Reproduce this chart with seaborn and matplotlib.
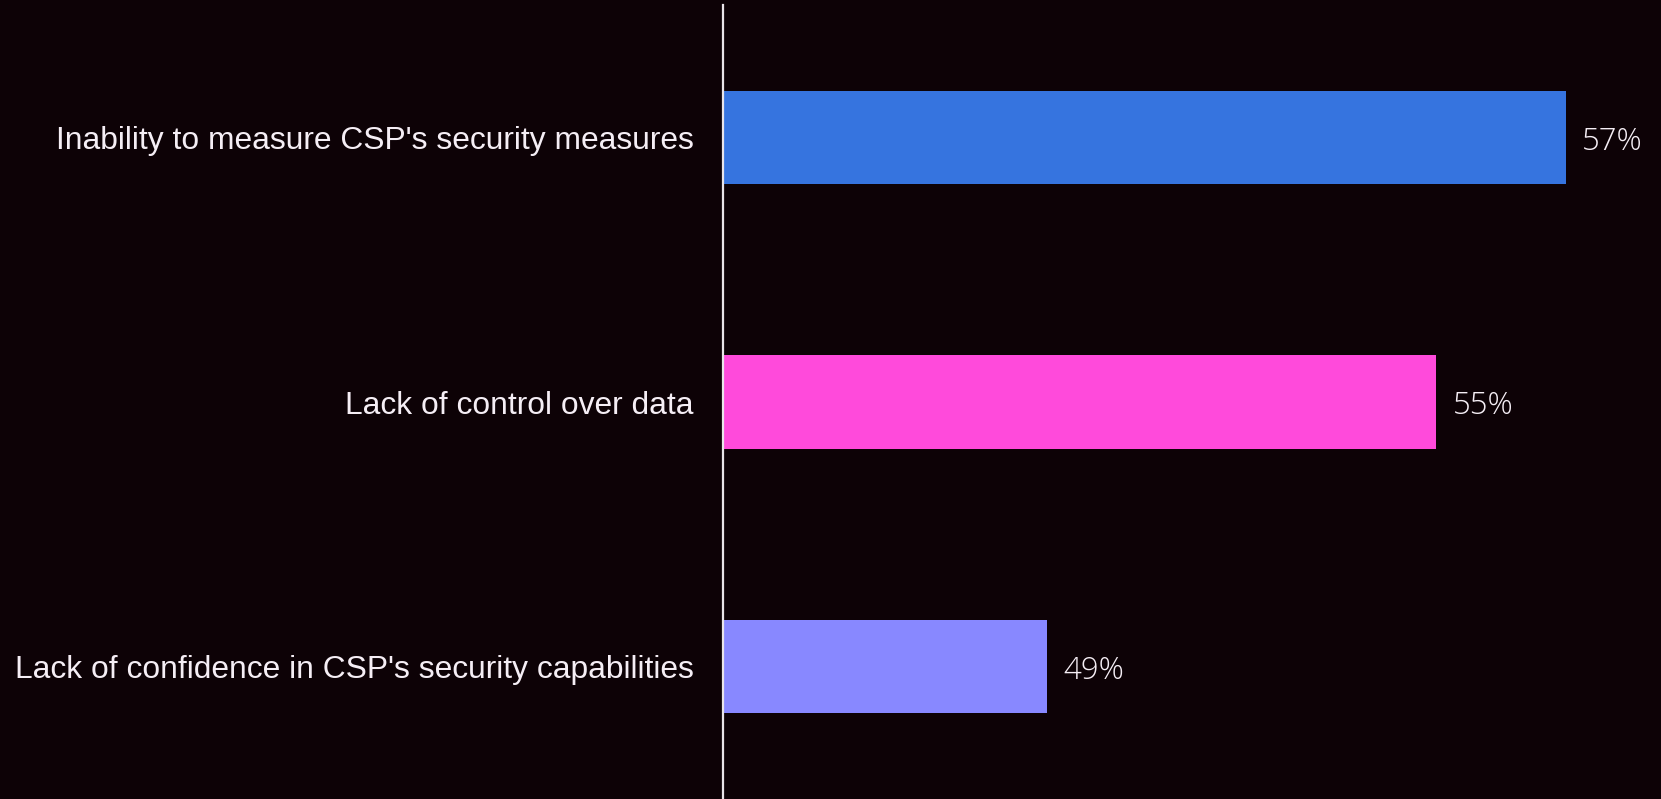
import matplotlib
matplotlib.use("Agg")
import matplotlib.pyplot as plt
import seaborn as sns
import pandas as pd

categories = [
    "Inability to measure CSP's security measures",
    "Lack of control over data",
    "Lack of confidence in CSP's security capabilities",
]
values = [57, 55, 49]
colors = ["#3674DF", "#FF4ADB", "#8888FF"]

BG = "#0D0206"
TXT = "#F5EEF5"

sns.set_theme(style="white")
plt.rcParams["font.family"] = ["Liberation Sans", "DejaVu Sans"]

df = pd.DataFrame({"category": categories, "value": values})

fig = plt.figure(figsize=(16.61, 7.99), dpi=100, facecolor=BG)
ax = fig.add_axes([722.7 / 1661, 0.0, 1 - 722.7 / 1661, 1 - 5 / 799])
ax.set_facecolor(BG)

sns.barplot(data=df, x="value", y="category", hue="category",
            palette=colors, width=0.353, legend=False, ax=ax,
            saturation=1, orient="h", linewidth=0, edgecolor="none")

ax.set_xlim(44, 58.46)
ax.set_ylim(2.5, -0.5)
ax.set_xlabel("")
ax.set_ylabel("")
ax.set_xticks([])
for s in ["top", "right", "bottom"]:
    ax.spines[s].set_visible(False)
ax.spines["left"].set_color("#E8E4E8")
ax.spines["left"].set_linewidth(1.6)
ax.tick_params(axis="y", length=0, pad=20.7, colors=TXT, labelsize=22.9)

for cont in ax.containers:
    for rect, v in zip(cont.patches, cont.datavalues):
        ax.annotate(f"{v:.0f}%",
                    xy=(rect.get_x() + rect.get_width(), rect.get_y() + rect.get_height() / 2),
                    xytext=(11.5, -3), textcoords="offset points",
                    ha="left", va="center", color=TXT, fontsize=22.5,
                    family=["Open Sans", "DejaVu Sans"], fontweight="light")

fig.savefig("out.png", dpi=100, facecolor=BG)
